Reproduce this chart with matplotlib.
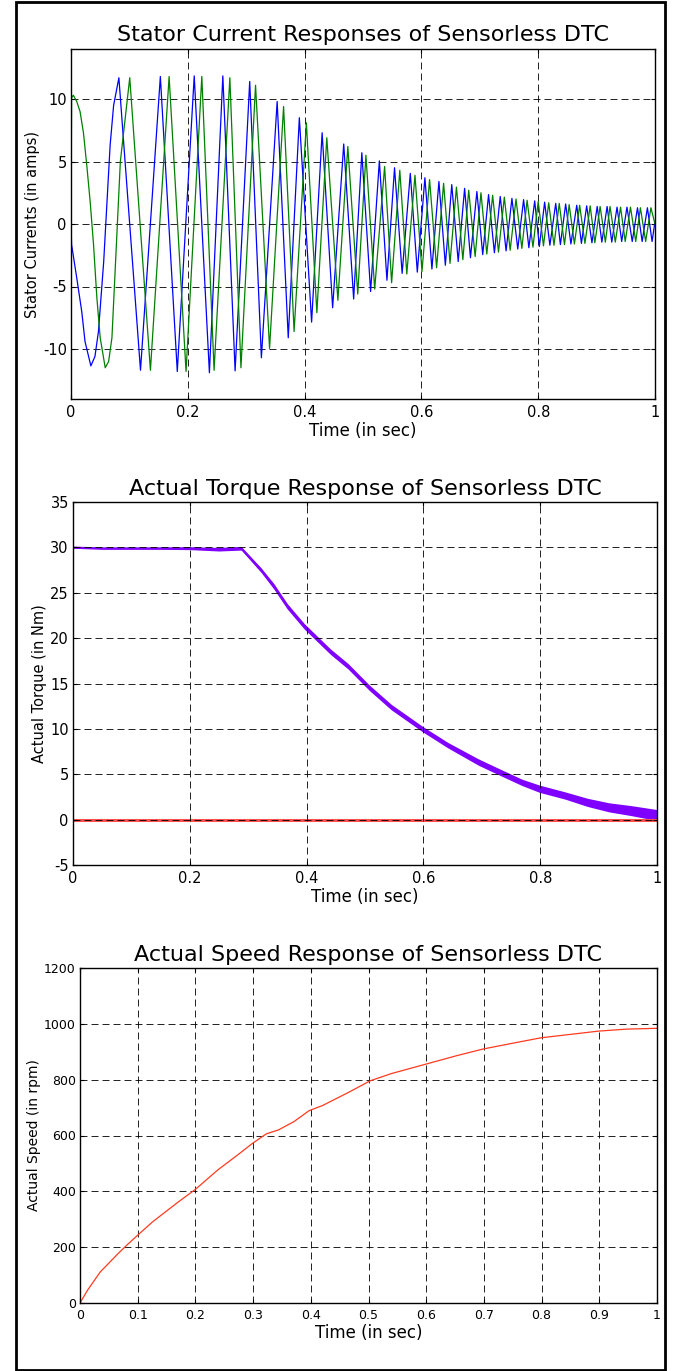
import matplotlib
matplotlib.use("Agg")
import matplotlib.pyplot as plt
from matplotlib.patches import Rectangle

plt.rcParams['axes.unicode_minus'] = False

# stator currents: turning points (time in s, current in A)
blue_t = [0.0, 0.001, 0.0098, 0.0184, 0.024, 0.034, 0.041, 0.047, 0.056, 0.067, 0.073, 0.082,
          0.119, 0.153, 0.182, 0.211, 0.237, 0.260, 0.281, 0.306, 0.326, 0.353, 0.372, 0.391,
          0.412, 0.430, 0.448, 0.467, 0.484, 0.498, 0.513, 0.528, 0.541, 0.554, 0.567, 0.581,
          0.593, 0.606, 0.618, 0.630, 0.641, 0.652, 0.663, 0.674, 0.684, 0.695, 0.705, 0.715,
          0.725, 0.735, 0.745, 0.755, 0.765, 0.775, 0.784, 0.794, 0.802, 0.811, 0.820, 0.830,
          0.838, 0.847, 0.856, 0.866, 0.874, 0.883, 0.892, 0.901, 0.909, 0.918, 0.926, 0.935,
          0.943, 0.952, 0.961, 0.970, 0.978, 0.987, 0.995, 1.0]
blue_i = [0.0, -1.65, -4.3, -7.0, -9.4, -11.35, -10.6, -8.6, -3.0, 6.3, 9.5, 11.7,
          -11.7, 11.8, -11.8, 11.85, -11.9, 11.85, -11.75, 11.4, -10.7, 9.8, -9.1, 8.5,
          -7.85, 7.3, -6.7, 6.4, -6.0, 5.7, -5.4, 5.05, -4.5, 4.5, -3.95, 4.05,
          -3.85, 3.7, -3.6, 3.4, -3.3, 3.15, -3.0, 2.85, -2.7, 2.6, -2.45, 2.35,
          -2.3, 2.2, -2.15, 2.05, -2.0, 1.95, -1.9, 1.85, -1.8, 1.75, -1.7, 1.65,
          -1.65, 1.6, -1.6, 1.5, -1.55, 1.45, -1.5, 1.4, -1.45, 1.4, -1.45, 1.35,
          -1.4, 1.35, -1.4, 1.3, -1.4, 1.3, -1.4, 0.2]
green_t = [0.0, 0.001, 0.004, 0.0098, 0.0155, 0.0213, 0.027, 0.0328, 0.0385, 0.0443, 0.050,
           0.0586, 0.0644, 0.0701, 0.0845, 0.1006, 0.136, 0.168, 0.197, 0.224, 0.245, 0.272,
           0.291, 0.316, 0.340, 0.364, 0.382, 0.403, 0.421, 0.438, 0.457, 0.474, 0.491, 0.505,
           0.520, 0.537, 0.549, 0.563, 0.575, 0.589, 0.601, 0.614, 0.626, 0.638, 0.649, 0.660,
           0.671, 0.681, 0.692, 0.702, 0.712, 0.722, 0.732, 0.742, 0.752, 0.762, 0.772, 0.781,
           0.791, 0.800, 0.809, 0.818, 0.827, 0.836, 0.845, 0.853, 0.862, 0.871, 0.880, 0.889,
           0.897, 0.906, 0.915, 0.923, 0.932, 0.941, 0.949, 0.958, 0.967, 0.975, 0.984, 0.993, 1.0]
green_i = [0.0, 10.1, 10.3, 9.8, 9.0, 7.3, 4.7, 1.8, -1.6, -5.9, -9.1,
           -11.5, -11.0, -9.1, 5.0, 11.7, -11.7, 11.8, -11.8, 11.8, -11.7, 11.7,
           -11.5, 11.1, -9.95, 9.4, -8.6, 8.1, -7.1, 6.9, -6.1, 6.2, -5.6, 5.5,
           -5.2, 4.6, -4.7, 4.3, -4.0, 3.9, -3.8, 3.55, -3.5, 3.25, -3.15, 2.95,
           -2.85, 2.7, -2.6, 2.5, -2.4, 2.3, -2.25, 2.15, -2.1, 2.0, -1.95, 1.9,
           -1.85, 1.8, -1.75, 1.7, -1.7, 1.65, -1.65, 1.55, -1.6, 1.5, -1.55, 1.45,
           -1.5, 1.4, -1.45, 1.4, -1.45, 1.35, -1.4, 1.35, -1.4, 1.3, -1.4, 1.3, 0.0]

# torque (Nm): centre of the trace and half-width of its ripple band
torque_t = [0.0, 0.0, 0.05, 0.10, 0.15, 0.20, 0.25, 0.288, 0.322, 0.344, 0.367, 0.396, 0.441,
            0.471, 0.508, 0.545, 0.598, 0.642, 0.694, 0.732, 0.769, 0.799, 0.843, 0.881,
            0.918, 0.955, 0.996, 1.0]
torque_v = [0.0, 30.0, 29.9, 29.9, 29.9, 29.9, 29.8, 29.9, 27.5, 25.7, 23.5, 21.3, 18.5,
            16.9, 14.5, 12.4, 10.0, 8.2, 6.35, 5.2, 4.1, 3.4, 2.65, 1.9,
            1.35, 1.0, 0.55, 0.5]
torque_rip = [0.0, 0.1, 0.12, 0.12, 0.12, 0.15, 0.2, 0.2, 0.25, 0.3, 0.3, 0.3, 0.3,
              0.3, 0.3, 0.3, 0.3, 0.3, 0.35, 0.35, 0.35, 0.4, 0.4, 0.45,
              0.5, 0.55, 0.6, 0.6]
load_t = [0.0, 1.0]
load_v = [0.0, 0.0]

# rotor speed (rpm)
speed_t = [0.0, 0.0128, 0.035, 0.066, 0.081, 0.10, 0.126, 0.171, 0.20, 0.239, 0.273, 0.299,
           0.323, 0.344, 0.371, 0.397, 0.42, 0.465, 0.503, 0.54, 0.60, 0.653, 0.699, 0.751,
           0.799, 0.849, 0.899, 0.947, 1.0]
speed_v = [0, 45, 111, 177, 207, 243, 291, 363, 407, 477, 530, 572,
           606, 620, 650, 689, 707, 754, 796, 822, 856, 886, 910, 931,
           950, 962, 974, 981, 984]

W, H = 681, 1371
fig = plt.figure(figsize=(W / 100, H / 100), dpi=100)
fig.patches.append(Rectangle((16 / W, 1.5 / H), 648.5 / W, 1368 / H, transform=fig.transFigure,
                             fill=False, edgecolor='black', linewidth=2.0))

def px_axes(l, r, t, b):
    return fig.add_axes([l / W, 1 - b / H, (r - l) / W, (b - t) / H])

def style(ax, tick_fs):
    ax.grid(True, color='black', linestyle=(0, (7, 4)), linewidth=0.72, alpha=0.85)
    ax.tick_params(direction='in', top=True, right=True, length=3, labelsize=tick_fs, pad=4)
    ax.tick_params(axis='y', pad=3)
    for s in ax.spines.values():
        s.set_linewidth(1.0)

# panel 1
ax1 = px_axes(71, 655, 49, 399)
ax1.plot(blue_t, blue_i, color='#0000ff', linewidth=0.9)
ax1.plot(green_t, green_i, color='#008000', linewidth=0.9)
ax1.set_xlim(0, 1); ax1.set_ylim(-14, 14)
ax1.set_xticks([0, 0.2, 0.4, 0.6, 0.8, 1]); ax1.set_xticklabels(['0', '0.2', '0.4', '0.6', '0.8', '1'])
ax1.set_yticks([-10, -5, 0, 5, 10])
style(ax1, 10.5)
ax1.set_title('Stator Current Responses of Sensorless DTC', fontsize=16, pad=5.5)
ax1.set_xlabel('Time (in sec)', fontsize=12, labelpad=2)
ax1.set_ylabel('Stator Currents (in amps)', fontsize=10.5, labelpad=2)

# panel 2
ax2 = px_axes(73, 657, 502, 865)
lo = [v - r for v, r in zip(torque_v, torque_rip)]
hi = [v + r for v, r in zip(torque_v, torque_rip)]
ax2.plot(load_t, load_v, color='#ff5050', linewidth=2.2)
ax2.fill_between(torque_t, lo, hi, color='#7f00ff', linewidth=0)
ax2.plot(torque_t, torque_v, color='#7f00ff', linewidth=1.2)
ax2.set_xlim(0, 1); ax2.set_ylim(-5, 35)
ax2.set_xticks([0, 0.2, 0.4, 0.6, 0.8, 1]); ax2.set_xticklabels(['0', '0.2', '0.4', '0.6', '0.8', '1'])
ax2.set_yticks(range(-5, 36, 5))
style(ax2, 10.5)
ax2.set_axisbelow(False)
ax2.set_title('Actual Torque Response of Sensorless DTC', fontsize=16, pad=5)
ax2.set_xlabel('Time (in sec)', fontsize=12, labelpad=2)
ax2.set_ylabel('Actual Torque (in Nm)', fontsize=10.5, labelpad=2)

# panel 3
ax3 = px_axes(80, 657, 968, 1303)
ax3.plot(speed_t, speed_v, color='#ff3b1f', linewidth=0.9)
ax3.set_xlim(0, 1); ax3.set_ylim(0, 1200)
ax3.set_xticks([i / 10 for i in range(11)])
ax3.set_xticklabels(['0', '0.1', '0.2', '0.3', '0.4', '0.5', '0.6', '0.7', '0.8', '0.9', '1'])
ax3.set_yticks(range(0, 1201, 200))
style(ax3, 9)
ax3.set_title('Actual Speed Response of Sensorless DTC', fontsize=16, pad=5)
ax3.set_xlabel('Time (in sec)', fontsize=12, labelpad=2)
ax3.set_ylabel('Actual Speed (in rpm)', fontsize=10, labelpad=2)

fig.savefig('out.png', dpi=100)
